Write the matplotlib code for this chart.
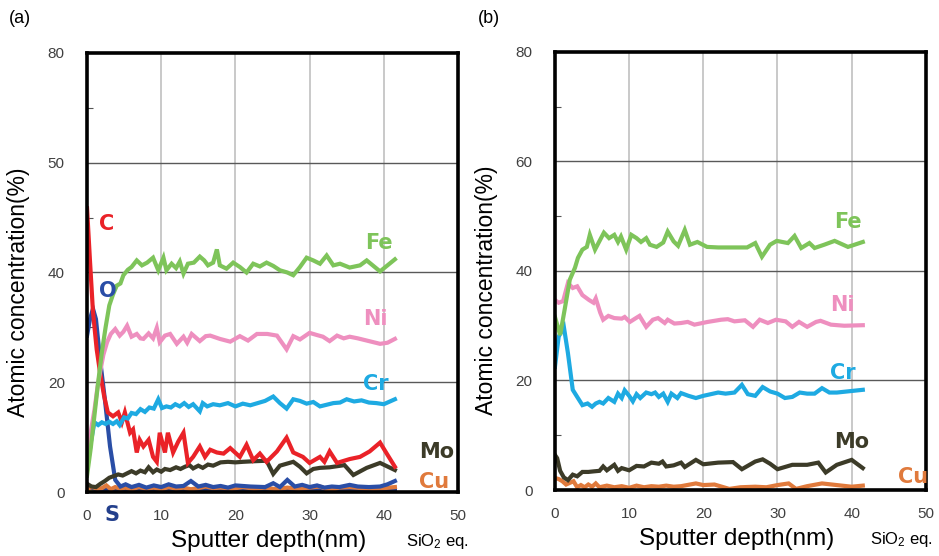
import numpy as np
import matplotlib
matplotlib.use('Agg')
import matplotlib.pyplot as plt
from matplotlib.ticker import MultipleLocator

plt.rcParams['font.family'] = ['Liberation Sans', 'DejaVu Sans']
plt.rcParams['mathtext.fontset'] = 'custom'
plt.rcParams['mathtext.rm'] = 'Liberation Sans'
plt.rcParams['mathtext.it'] = 'Liberation Sans'

# ---- panel (a): (depth nm, atomic %) ----
fe_a = [(0, 3), (0.5, 8), (1.0, 14), (1.5, 20), (2.0, 25.5), (2.5, 30), (3.0, 34), (3.5, 36),
        (4.0, 37.6), (4.5, 38), (4.9, 39.5), (5.5, 40.5), (6.0, 41), (6.7, 42.2), (7.4, 41.3),
        (8.1, 41.8), (8.9, 42.7), (9.6, 40.4), (10.3, 42.7), (10.7, 40.4), (11.4, 41.6), (12.0, 40.8),
        (12.5, 42), (13.0, 39.8), (13.6, 41.6), (14.4, 41.8), (15.2, 42.9), (15.8, 42.2), (16.3, 41.3),
        (17.0, 41.8), (17.5, 44.2), (17.9, 41.3), (18.8, 40.7), (19.7, 41.8), (20.6, 41.0), (21.5, 40.0),
        (22.4, 41.6), (23.3, 41.1), (24.2, 41.8), (25.1, 41.2), (26.0, 40.4), (27.0, 40.0), (27.8, 39.5),
        (28.7, 41.0), (29.6, 42.7), (30.5, 42.2), (31.4, 41.6), (32.3, 43.1), (33.2, 41.3), (34.1, 41.6),
        (35.4, 40.9), (36.8, 41.3), (37.7, 42.2), (38.6, 41.2), (39.5, 40.2), (40.5, 41.3), (41.5, 42.4)]
ni_a = [(0, 7.7), (0.5, 11), (1.0, 15), (1.4, 19), (1.75, 21.8), (2.2, 25), (2.7, 27.3), (3.2, 28.8),
        (3.8, 29.7), (4.4, 28.5), (4.9, 29.2), (5.4, 30.3), (6.0, 28.3), (6.7, 28.8), (7.2, 28.0),
        (7.6, 27.9), (8.3, 28.9), (8.9, 28.0), (9.4, 29.9), (9.8, 27.3), (10.5, 28.5), (11.2, 28.8),
        (12.1, 27.0), (13.0, 28.3), (13.5, 27.2), (14.1, 28.8), (15.2, 27.5), (16.0, 28.4), (16.6, 28.5),
        (17.9, 27.9), (19.3, 27.4), (20.6, 28.4), (21.7, 27.6), (22.9, 28.8), (24.3, 28.8), (25.6, 28.5),
        (26.9, 26.0), (27.8, 28.4), (28.7, 27.8), (30.0, 29.0), (31.0, 28.6), (31.8, 28.3), (32.7, 27.5),
        (33.7, 28.5), (34.6, 28.0), (35.4, 28.3), (36.5, 28.0), (37.7, 27.6), (39.5, 27.0), (40.5, 27.2),
        (41.5, 27.9)]
cr_a = [(0, 4), (0.5, 9), (1.0, 12.7), (1.5, 12.2), (2.0, 12.7), (2.5, 12.4), (3.0, 12.8), (3.5, 12.4),
        (4.0, 12.9), (4.4, 12.2), (5.0, 13.6), (5.5, 13.4), (6.0, 14.4), (6.6, 14.2), (7.2, 15.1),
        (7.8, 14.6), (8.4, 15.4), (9.0, 15.2), (9.6, 16.9), (10.1, 15.3), (10.7, 15.6), (11.3, 15.4),
        (11.9, 16.0), (12.5, 15.6), (13.1, 16.2), (13.7, 15.5), (14.3, 16.0), (15.2, 14.7), (15.6, 16.2),
        (16.2, 15.6), (17.0, 16.0), (17.9, 15.8), (19.0, 16.2), (20.0, 15.6), (21.0, 16.1), (22.0, 15.8),
        (23.0, 16.2), (24.0, 16.6), (25.1, 17.4), (26.0, 16.2), (26.9, 15.2), (27.8, 16.9), (28.7, 16.6),
        (29.6, 16.1), (30.5, 16.4), (31.4, 15.6), (32.3, 15.9), (33.2, 16.2), (34.1, 16.3), (35.0, 16.9),
        (36.0, 16.5), (37.0, 16.7), (38.0, 16.3), (39.0, 16.2), (40.0, 16.0), (41.5, 16.9)]
c_a = [(0, 51.7), (0.4, 42), (0.8, 32.8), (1.3, 26), (1.75, 21.8), (2.3, 17.5), (2.8, 14.5), (3.5, 13.8),
       (4.2, 14.5), (4.7, 12.7), (5.1, 14.5), (5.8, 10.8), (6.2, 11.4), (6.7, 7.2), (7.1, 9.5), (7.6, 8.3),
       (8.3, 9.5), (8.9, 6.4), (9.4, 5.5), (9.8, 10.8), (10.5, 7.2), (10.9, 10.8), (11.6, 7.2), (12.3, 9.2),
       (13.0, 10.8), (13.6, 5.3), (14.3, 6.4), (15.2, 8.3), (15.9, 6.4), (16.6, 7.7), (17.5, 7.2),
       (18.4, 7.0), (19.3, 8.0), (20.6, 6.4), (21.5, 8.6), (22.4, 5.8), (23.3, 7.0), (24.2, 5.5),
       (25.6, 7.4), (26.9, 9.9), (27.8, 7.2), (29.1, 6.4), (30.0, 5.3), (31.4, 6.4), (32.0, 5.5),
       (32.7, 7.4), (33.7, 5.3), (35.4, 6.0), (36.8, 6.4), (38.1, 7.4), (39.5, 9.0), (40.4, 7.0), (41.5, 4.6)]
o_a = [(0, 28.5), (0.4, 31.5), (0.8, 33.4), (1.2, 31.5), (1.75, 24.2), (2.4, 16.9), (3.1, 8.3), (3.8, 2.2),
       (4.5, 1.0), (5.2, 1.4), (6.0, 0.9), (7.0, 1.3), (8.0, 0.8), (9.0, 1.2), (10.0, 0.9), (11.0, 1.4),
       (12.0, 1.0), (13.0, 1.1), (14.0, 2.0), (15.0, 1.0), (16.0, 1.3), (17.0, 0.9), (18.0, 1.1),
       (19.0, 0.8), (20.0, 1.2), (22.0, 1.0), (24.0, 0.9), (25.1, 1.6), (26.0, 0.9), (27.0, 2.2),
       (28.0, 1.0), (29.0, 1.3), (30.0, 0.9), (31.0, 1.2), (32.0, 0.8), (33.0, 1.0), (34.0, 0.9),
       (35.4, 1.3), (36.5, 1.0), (38.0, 0.9), (39.5, 1.0), (40.5, 1.4), (41.5, 2.0)]
mo_a = [(0, 1.5), (0.6, 1.0), (1.2, 0.9), (1.8, 1.5), (2.4, 2.0), (3.0, 2.6), (3.6, 2.9), (4.2, 3.2),
        (4.8, 3.0), (5.4, 3.4), (6.0, 3.8), (6.6, 3.4), (7.2, 3.9), (7.8, 3.6), (8.3, 4.5), (8.9, 3.6),
        (9.4, 4.1), (10.0, 3.7), (10.5, 4.2), (11.2, 4.0), (12.0, 4.5), (12.6, 4.2), (13.2, 4.6),
        (13.8, 4.9), (14.3, 4.3), (15.0, 4.8), (15.6, 4.4), (16.3, 5.0), (17.0, 4.8), (18.0, 5.4),
        (19.0, 5.5), (20.0, 5.4), (21.0, 5.5), (22.4, 5.6), (24.2, 5.7), (25.1, 3.3), (26.0, 4.8),
        (27.8, 5.5), (28.7, 4.6), (29.6, 3.4), (30.5, 4.2), (31.4, 4.4), (32.7, 4.5), (34.7, 4.9),
        (35.9, 3.1), (37.7, 4.4), (39.5, 5.3), (41.5, 4.0)]
cu_a = [(0, 0.6), (0.7, 0.9), (1.4, 0.6), (2.0, 0.7), (2.6, 1.2), (3.2, 0.5), (3.8, 0.9), (4.5, 0.6),
        (5.2, 0.8), (6.0, 0.5), (7.0, 0.9), (8.0, 0.6), (9.0, 0.8), (10.0, 0.5), (11.0, 0.9), (12.0, 0.6),
        (13.0, 0.8), (14.0, 0.5), (15.0, 0.7), (16.0, 1.0), (17.0, 0.7), (18.0, 0.8), (19.5, 0.6),
        (21.0, 0.9), (22.5, 0.6), (24.0, 0.8), (25.5, 0.5), (27.0, 0.8), (28.5, 0.6), (30.0, 0.8),
        (31.4, 1.0), (32.7, 0.3), (34.0, 0.8), (35.4, 0.9), (37.0, 0.7), (38.6, 0.6), (40.0, 0.7), (41.5, 0.9)]
s_a = [(0, 0.8), (1.0, 0.6), (2.0, 0.5), (3.5, 0.3), (6.0, 0.4), (10.0, 0.3), (15.0, 0.4), (20.0, 0.3),
       (25.0, 0.4), (30.0, 0.3), (35.0, 0.4), (41.5, 0.3)]
other_a = [(0, 0.1), (10.0, 0.1), (20.0, 0.15), (30.0, 0.1), (41.5, 0.1)]

# ---- panel (b) ----
fe_b = [(0, 31.6), (0.7, 28.3), (1.3, 32.9), (2.0, 38.4), (2.7, 40.6), (3.1, 42.4), (3.7, 43.9), (4.3, 44.4),
        (4.7, 46.6), (5.4, 43.9), (5.9, 45.2), (6.6, 47.0), (7.3, 46.0), (8.0, 46.6), (8.5, 45.3),
        (8.9, 46.3), (9.6, 43.9), (10.3, 46.6), (11.0, 46.0), (11.6, 45.3), (12.3, 46.0), (12.8, 44.8),
        (13.7, 44.4), (14.6, 45.2), (15.2, 47.2), (16.0, 45.4), (16.6, 44.6), (17.5, 47.5), (18.2, 44.8),
        (19.2, 45.3), (20.5, 44.4), (22.0, 44.3), (23.6, 44.3), (25.9, 44.3), (27.0, 45.1), (27.9, 42.6),
        (29.0, 44.8), (29.9, 45.5), (31.4, 45.1), (32.3, 46.4), (33.2, 44.2), (34.3, 45.1), (35.0, 44.2),
        (36.3, 44.8), (37.7, 45.5), (39.5, 44.4), (41.5, 45.3)]
ni_b = [(0, 34.7), (0.5, 34.2), (1.1, 34.5), (1.75, 37.8), (2.4, 36.9), (3.0, 37.2), (3.7, 35.6), (4.6, 34.7),
        (5.2, 34.2), (5.5, 35.0), (6.1, 32.4), (6.5, 31.1), (7.2, 31.8), (8.0, 31.4), (9.0, 31.3),
        (9.4, 31.6), (10.1, 30.7), (10.8, 31.3), (11.4, 31.8), (12.3, 29.8), (13.2, 31.1), (13.9, 31.4),
        (14.8, 30.5), (15.2, 31.1), (16.1, 30.4), (17.0, 30.5), (17.9, 30.7), (18.8, 30.2), (20.6, 30.7),
        (22.4, 31.1), (23.3, 31.2), (24.2, 30.8), (25.6, 31.0), (26.7, 29.8), (27.6, 31.1), (28.7, 30.5),
        (29.8, 31.1), (31.1, 30.8), (32.0, 29.8), (32.9, 30.7), (34.0, 29.8), (35.2, 30.7), (35.8, 30.9),
        (37.2, 30.2), (39.0, 30.0), (41.5, 30.1)]
cr_b = [(0, 22.5), (0.5, 28.0), (1.0, 29.3), (1.2, 29.8), (1.75, 25.0), (2.4, 18.3), (3.0, 17.0), (3.7, 15.5),
        (4.4, 15.8), (5.0, 15.2), (5.5, 15.8), (6.0, 16.1), (6.5, 15.8), (7.2, 16.8), (8.0, 16.1),
        (8.5, 17.6), (9.0, 16.8), (9.4, 18.2), (10.0, 17.2), (10.5, 16.2), (11.0, 17.5), (11.5, 16.8),
        (12.3, 17.8), (13.0, 17.5), (13.5, 17.8), (14.0, 17.0), (14.6, 17.6), (15.2, 16.1), (15.7, 17.6),
        (16.5, 16.8), (17.0, 17.7), (18.0, 17.2), (19.0, 16.8), (20.0, 17.2), (22.0, 17.8), (23.0, 17.6),
        (24.2, 17.8), (25.2, 19.2), (26.0, 17.5), (27.0, 17.2), (28.0, 18.8), (29.0, 18.0), (30.0, 17.6),
        (31.0, 16.8), (32.0, 17.0), (33.0, 17.8), (34.0, 17.6), (35.0, 17.6), (36.0, 18.6), (37.0, 17.8),
        (38.0, 17.8), (41.5, 18.3)]
mo_b = [(0, 6.4), (0.3, 5.8), (0.7, 3.5), (1.2, 2.3), (1.75, 1.8), (2.4, 2.8), (3.0, 2.5), (3.7, 3.3),
        (4.5, 3.3), (5.2, 3.4), (6.0, 3.5), (6.5, 4.3), (7.0, 3.6), (8.0, 4.6), (8.5, 3.5), (9.0, 4.0),
        (10.0, 3.6), (11.0, 4.4), (12.0, 4.3), (13.0, 5.0), (14.0, 4.8), (14.5, 5.2), (15.0, 4.3),
        (16.0, 4.5), (17.0, 5.0), (17.5, 4.2), (19.0, 5.5), (20.0, 4.7), (22.0, 5.0), (24.0, 5.1),
        (25.2, 3.8), (27.0, 5.2), (28.0, 5.6), (29.0, 4.8), (30.0, 3.8), (32.0, 4.6), (34.0, 4.6),
        (35.5, 5.0), (36.5, 3.2), (38.0, 4.6), (40.0, 5.5), (41.5, 4.0)]
cu_b = [(0, 2.2), (0.5, 2.0), (1.0, 1.6), (1.5, 1.0), (2.0, 1.3), (2.5, 1.6), (3.0, 0.5), (3.5, 0.9),
        (4.0, 0.5), (4.5, 1.0), (5.0, 0.6), (5.5, 1.2), (6.0, 0.5), (7.0, 0.8), (8.0, 0.5), (9.0, 0.7),
        (10.0, 0.4), (11.0, 0.8), (12.0, 0.5), (13.0, 0.7), (14.0, 0.6), (15.0, 0.8), (16.0, 0.6),
        (17.0, 0.7), (19.0, 1.2), (20.0, 0.9), (21.5, 1.0), (23.5, 0.2), (25.0, 0.5), (27.0, 0.6),
        (28.5, 0.5), (30.0, 0.9), (31.5, 1.2), (32.5, 0.2), (34.0, 0.7), (36.0, 1.2), (38.0, 0.9),
        (40.0, 0.6), (41.5, 0.8)]

colors = {'Fe': '#7ec45a', 'Ni': '#ee8fbf', 'Cr': '#1eaae2', 'Mo': '#3c3b28',
          'Cu': '#e07a3c', 'C': '#ea2228', 'O': '#2a4ea6', 'S': '#233f8c', 'other': '#e6c22a'}

series_a = [('other', other_a), ('S', s_a), ('Cu', cu_a), ('O', o_a), ('Mo', mo_a),
            ('C', c_a), ('Cr', cr_a), ('Ni', ni_a), ('Fe', fe_a)]
series_b = [('Cu', cu_b), ('Mo', mo_b), ('Cr', cr_b), ('Ni', ni_b), ('Fe', fe_b)]

labels_a = [('C', 1.6, 48.8), ('O', 1.6, 36.7), ('S', 2.4, -4.2), ('Fe', 37.5, 45.3), ('Ni', 37.2, 31.6),
            ('Cr', 37.2, 19.6), ('Mo', 44.8, 7.3), ('Cu', 44.8, 1.8)]
labels_b = [('Fe', 37.7, 49.0), ('Ni', 37.1, 33.8), ('Cr', 37.1, 21.4), ('Mo', 37.7, 8.8), ('Cu', 46.3, 2.4)]

yticks = [0, 20, 40, 60, 80]
yticklabels_a = ['0', '20', '40', '50', '80']
yticklabels_b = ['0', '20', '40', '60', '80']
xticks = [0, 10, 20, 30, 40, 50]

fig = plt.figure(figsize=(9.39, 5.56), dpi=100)
ax_a = fig.add_axes([0.0927, 0.1151, 0.395, 0.7896])
ax_b = fig.add_axes([0.591, 0.1187, 0.395, 0.7878])


def draw_panel(ax, series, labels, yticklabels):
    for name, pts in series:
        x, y = np.array(pts).T
        ax.plot(x, y, color=colors[name], lw=3.0, solid_joinstyle='miter', zorder=3)
    for name, x, y in labels:
        ax.text(x, y, name, color=colors[name], fontsize=15, fontweight='bold',
                family='DejaVu Sans', ha='left', va='center', clip_on=False, zorder=5)
    ax.set_xlim(0, 50)
    ax.set_ylim(0, 80)
    ax.set_xticks(xticks)
    ax.set_yticks(yticks)
    ax.set_yticklabels(yticklabels)
    ax.yaxis.set_minor_locator(MultipleLocator(10))
    ax.tick_params(axis='both', which='major', length=0, labelsize=11, labelcolor='#404040')
    ax.tick_params(axis='y', which='major', pad=16)
    ax.tick_params(axis='x', which='major', pad=12)
    ax.tick_params(axis='y', which='minor', direction='in', length=4, width=0.8, color='#555555')
    for gx in [10, 20, 30, 40]:
        ax.axvline(gx, color='#c0c0c0', lw=1.2, zorder=1)
    for gy in [20, 40, 60]:
        ax.axhline(gy, color='#595959', lw=1.0, zorder=1)
    for sp in ax.spines.values():
        sp.set_linewidth(2.6)
        sp.set_color('black')
        sp.set_zorder(4)
    ax.set_ylabel('Atomic concentration(%)', fontsize=16.5)
    ax.yaxis.set_label_coords(-0.154, 0.455)
    ax.text(0.49, -0.112, 'Sputter depth(nm)', transform=ax.transAxes,
            ha='center', va='center', fontsize=17.5)


draw_panel(ax_a, series_a, labels_a, yticklabels_a)
draw_panel(ax_b, series_b, labels_b, yticklabels_b)

ax_a.text(0.946, -0.112, 'SiO$_2$ eq.', transform=ax_a.transAxes, ha='center', va='center', fontsize=12)
ax_b.text(0.933, -0.112, 'SiO$_2$ eq.', transform=ax_b.transAxes, ha='center', va='center', fontsize=12)

fig.text(0.009, 0.967, '(a)', fontsize=13, va='center', ha='left')
fig.text(0.509, 0.967, '(b)', fontsize=13, va='center', ha='left')

fig.savefig('out.png', dpi=100)
plt.close(fig)
